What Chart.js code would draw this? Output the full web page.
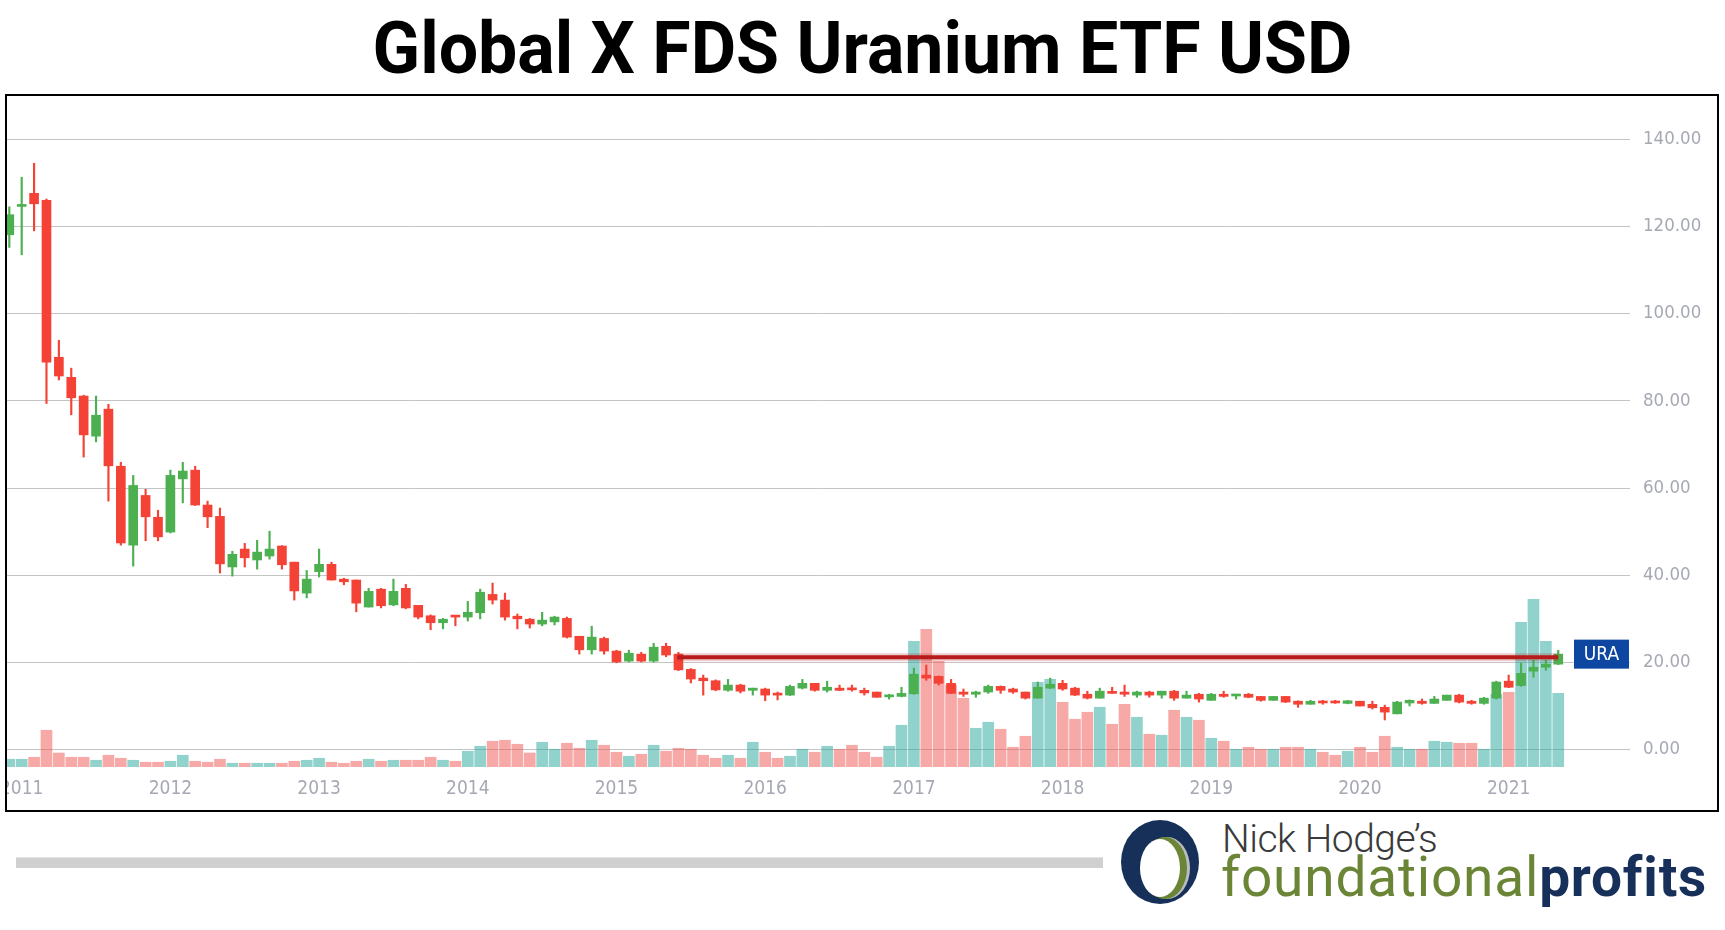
<!DOCTYPE html>
<html>
<head>
<meta charset="utf-8">
<script src="https://cdn.jsdelivr.net/npm/chart.js@4.4.1/dist/chart.umd.min.js"></script>
<style>
  html, body { margin: 0; padding: 0; background: #fff; }
  body { width: 1725px; height: 930px; position: relative; overflow: hidden; font-family: Roboto, sans-serif; }
  #title { position: absolute; left: 0; top: 12px; width: 1725px; text-align: center; font: 700 73px/1 Roboto, sans-serif; color: #000; transform: scaleX(0.957); transform-origin: 862px 0; }
  #box { position: absolute; left: 5px; top: 94px; width: 1714px; height: 718px; border: 2px solid #000; box-sizing: border-box; background: #fff; }
  #box canvas { display: block; }
  #bar { position: absolute; left: 16px; top: 857px; width: 1087px; height: 11px; background: #d0d0d0; border-top: 1px solid #e4e4e4; box-sizing: border-box; }
  #logo { position: absolute; left: 1115px; top: 815px; }
  #nick { position: absolute; left: 1222px; top: 820px; font: 300 39px/1 Roboto, sans-serif; color: #3a3a3a; letter-spacing: -0.5px; }
  #brand { position: absolute; left: 1221px; top: 850px; font: 400 55px/1 Roboto, sans-serif; color: #6b8536; letter-spacing: 0.8px; white-space: nowrap; }
  #brand b { color: #17305a; font-weight: 700; }
</style>
</head>
<body>
<div id="title">Global X FDS Uranium ETF USD</div>
<div id="box"><canvas id="ChartURA" width="1710" height="714"></canvas></div>
<div id="bar"></div>
<svg id="logo" width="100" height="100" viewBox="0 0 100 100">
  <ellipse cx="45" cy="47" rx="39" ry="42" fill="#17305a"/>
  <ellipse cx="52" cy="53" rx="23" ry="31" fill="#b9bcc0"/>
  <ellipse cx="50" cy="53" rx="22" ry="31" fill="#6b8536"/>
  <ellipse cx="45" cy="53" rx="20" ry="29" fill="#fff"/>
</svg>
<div id="nick">Nick Hodge’s</div>
<div id="brand">foundational<b>profits</b></div>

<script>
// Monthly candles, Dec 2010 .. May 2021 (index 0 = Dec 2010)
const TICKER = 'URA';
const OPEN = [
  118.1, 124.6, 127.6, 126.0, 90.0, 85.4, 81.1, 71.9, 78.1, 65.0, 46.9, 58.3, 53.3,
  49.9, 62.1, 64.1, 56.1, 53.5, 41.9, 46.0, 43.5, 44.4, 46.7, 43.0, 35.9,
  40.8, 42.5, 39.1, 38.9, 32.7, 36.8, 33.2, 37.0, 33.1, 30.7, 29.1, 30.6,
  30.4, 31.4, 35.6, 34.3, 30.6, 29.9, 28.8, 29.3, 30.1, 26.0, 22.9, 25.5,
  22.6, 20.3, 21.9, 20.3, 23.7, 21.9, 18.4, 16.4, 15.8, 13.6, 14.8, 13.6,
  13.9, 12.7, 12.5, 14.1, 15.2, 13.6, 14.1, 13.9, 13.6, 13.2, 12.1, 12.2,
  12.8, 17.1, 16.8, 15.2, 13.2, 12.7, 13.2, 14.5, 13.9, 13.2, 11.8, 14.1,
  15.2, 14.1, 12.7, 11.8, 13.2, 13.2, 12.5, 13.2, 12.5, 13.4, 11.8, 12.7,
  11.3, 12.7, 12.3, 12.7, 12.2, 11.3, 12.2, 11.1, 10.4, 10.9, 10.9, 10.6,
  11.1, 10.4, 9.7, 8.2, 10.7, 11.1, 10.6, 11.3, 12.5, 11.1, 10.6, 11.8,
  15.7, 14.7, 18.0, 18.9, 19.6
];
const HIGH = [
  124.5, 131.3, 134.5, 126.3, 93.9, 87.5, 81.3, 81.1, 79.2, 65.9, 62.9, 59.7, 54.9,
  64.1, 65.9, 65.0, 57.0, 55.4, 45.5, 47.3, 48.0, 50.1, 46.8, 43.0, 41.1,
  46.0, 43.0, 39.3, 38.9, 37.0, 37.0, 39.1, 37.9, 33.1, 30.9, 30.1, 30.7,
  34.0, 36.8, 38.2, 35.9, 31.1, 30.1, 31.5, 30.6, 30.4, 26.0, 28.3, 25.8,
  22.8, 22.8, 22.3, 24.4, 24.4, 22.3, 18.6, 17.1, 16.0, 16.1, 15.0, 14.1,
  14.1, 13.2, 14.8, 16.1, 15.2, 15.7, 14.8, 14.8, 14.1, 13.2, 12.7, 14.3,
  18.7, 19.4, 16.9, 16.1, 13.9, 13.4, 14.8, 14.6, 14.1, 13.2, 15.5, 16.4,
  15.9, 14.3, 13.4, 14.1, 14.3, 14.8, 13.4, 13.4, 13.4, 13.6, 13.4, 12.9,
  12.9, 13.4, 12.7, 12.9, 12.2, 12.2, 12.2, 11.2, 11.3, 11.3, 11.3, 11.3,
  11.1, 11.1, 10.2, 11.1, 11.4, 11.6, 12.2, 12.5, 12.7, 11.3, 12.0, 15.7,
  17.1, 19.8, 20.5, 20.5, 22.8
];
const LOW = [
  115.2, 113.5, 119.0, 79.4, 84.8, 76.8, 67.1, 70.6, 57.0, 46.9, 42.1, 47.9, 47.9,
  49.7, 56.6, 56.0, 50.9, 40.5, 39.8, 41.9, 41.4, 43.7, 41.4, 34.3, 34.8,
  39.6, 38.9, 37.8, 31.6, 32.7, 32.5, 33.0, 32.3, 30.0, 27.5, 27.7, 28.4,
  29.5, 30.0, 33.4, 29.7, 27.7, 27.9, 28.4, 28.6, 25.6, 21.9, 21.9, 21.9,
  19.9, 20.1, 20.1, 20.1, 21.3, 18.1, 15.3, 12.5, 13.5, 13.4, 13.0, 12.5,
  11.2, 11.4, 12.4, 13.9, 13.4, 13.2, 13.5, 13.4, 12.5, 12.0, 11.6, 12.1,
  12.7, 15.9, 14.8, 12.9, 12.2, 12.0, 12.9, 12.9, 12.9, 11.6, 11.8, 14.0,
  13.6, 12.4, 11.6, 11.8, 12.9, 12.2, 12.0, 12.0, 11.8, 11.3, 11.8, 10.9,
  11.3, 12.0, 11.6, 11.9, 11.1, 11.3, 10.8, 9.7, 10.4, 10.4, 10.6, 10.5,
  10.0, 9.3, 6.8, 8.2, 10.0, 10.4, 10.6, 11.3, 10.7, 10.4, 10.4, 11.6,
  14.2, 14.5, 16.6, 18.2, 19.5
];
const CLOSE = [
  122.7, 125.0, 125.2, 88.9, 85.7, 80.7, 72.2, 76.7, 65.1, 47.4, 60.6, 53.4, 48.8,
  62.9, 63.9, 56.1, 53.4, 42.6, 44.8, 44.0, 45.3, 46.0, 42.4, 36.4, 39.1,
  42.5, 38.9, 38.5, 33.6, 36.3, 33.0, 36.3, 32.5, 30.4, 29.1, 29.9, 30.4,
  31.5, 36.1, 34.3, 30.4, 30.0, 28.8, 29.7, 30.4, 25.8, 22.9, 25.8, 22.6,
  20.1, 22.1, 20.3, 23.5, 21.7, 18.3, 16.2, 15.8, 13.7, 14.8, 13.4, 14.1,
  12.5, 12.5, 14.5, 15.2, 13.6, 14.3, 13.6, 13.7, 13.0, 12.0, 12.5, 12.9,
  17.3, 16.4, 15.2, 12.9, 12.7, 13.2, 14.5, 13.6, 13.2, 11.8, 14.3, 15.0,
  13.9, 12.5, 11.8, 13.4, 12.9, 12.7, 13.2, 12.5, 13.4, 11.8, 12.5, 11.6,
  12.7, 12.2, 12.5, 12.0, 11.3, 12.2, 10.9, 10.4, 11.1, 10.7, 10.7, 11.2,
  10.0, 9.6, 8.6, 10.9, 11.3, 10.6, 11.6, 12.5, 10.9, 10.6, 11.8, 15.5,
  14.3, 17.5, 18.9, 19.6, 21.9
];
// volume, millions of shares
const VOLUME = [
  3.1, 3.1, 3.9, 14.7, 5.6, 3.9, 3.9, 2.7, 4.7, 3.5, 2.7, 1.9, 1.9,
  2.3, 4.7, 2.3, 1.9, 3.1, 1.5, 1.5, 1.5, 1.5, 1.5, 2.3, 2.7,
  3.5, 1.9, 1.5, 2.3, 3.1, 2.3, 2.7, 2.7, 2.7, 3.9, 2.7, 2.3,
  6.3, 8.3, 10.3, 10.7, 9.1, 5.6, 9.9, 7.1, 9.5, 7.5, 10.7, 8.7,
  5.9, 4.3, 5.1, 8.7, 6.3, 7.5, 7.1, 4.7, 3.5, 4.7, 3.5, 9.9,
  5.9, 3.5, 4.3, 7.1, 5.9, 8.3, 7.1, 8.7, 5.9, 3.9, 8.3, 16.7,
  50.3, 55.1, 42.3, 32.7, 27.5, 15.5, 17.9, 15.1, 7.9, 12.3, 33.9, 35.1,
  25.9, 19.1, 21.9, 23.9, 17.1, 25.1, 19.9, 13.1, 12.7, 22.7, 19.9, 18.7,
  11.5, 10.3, 7.1, 7.9, 7.1, 7.1, 7.9, 7.9, 7.1, 5.9, 4.7, 6.3,
  7.9, 5.9, 12.3, 7.9, 7.1, 7.1, 10.3, 9.9, 9.5, 9.5, 7.1, 29.1,
  29.9, 57.9, 67.1, 50.3, 29.5
];
const YEAR_LABELS = ['2011', '2012', '2013', '2014', '2015', '2016', '2017', '2018', '2019', '2020', '2021'];
const YEAR_TICK_INDEX = [1, 13, 25, 37, 49, 61, 73, 85, 97, 109, 121];
const PRICE_TICKS = [0, 20, 40, 60, 80, 100, 120, 140];
// horizontal level drawn from Jun 2015 to the last bar
const LEVEL = 21.2;
const LEVEL_FROM = 53.9;
const LEVEL_TO = 125;

const UP = '#4caf50';
const DOWN = '#f44336';
const UP_VOL = 'rgba(38, 166, 154, 0.5)';
const DOWN_VOL = 'rgba(239, 83, 80, 0.5)';
const AXIS_TEXT = '#a6a9b3';
const AXIS_FONT = '"DejaVu Sans Condensed", "DejaVu Sans", sans-serif';

const idx = OPEN.map((_, i) => i);
const isUp = i => CLOSE[i] >= OPEN[i];

const lastPriceTag = {
    id: 'lastPriceTag',
    afterDatasetsDraw(chart) {
        const { ctx, chartArea } = chart;
        const y = chart.scales.y.getPixelForValue(CLOSE[CLOSE.length - 1]);
        ctx.save();
        ctx.fillStyle = '#0d47a1';
        ctx.fillRect(chartArea.right - 56, y - 14.5, 55, 29);
        ctx.fillStyle = '#fff';
        ctx.font = '19px ' + AXIS_FONT;
        ctx.textAlign = 'center';
        ctx.textBaseline = 'middle';
        ctx.fillText(TICKER, chartArea.right - 28.5, y + 1);
        ctx.restore();
    }
};

const ctx = document.getElementById('ChartURA').getContext('2d');
const chartURA = new Chart(ctx, {
    type: 'bar',
    data: {
        datasets: [
            {
                type: 'line',
                label: 'Level',
                data: [{ x: LEVEL_FROM, y: LEVEL }, { x: LEVEL_TO, y: LEVEL }],
                borderColor: '#b71c1c',
                borderWidth: 4,
                pointRadius: 0,
                yAxisID: 'y',
                order: 0
            },
            {
                type: 'line',
                label: 'Level halo',
                data: [{ x: LEVEL_FROM, y: LEVEL }, { x: LEVEL_TO, y: LEVEL }],
                borderColor: 'rgba(183, 28, 28, 0.22)',
                borderWidth: 8,
                pointRadius: 0,
                yAxisID: 'y',
                order: 1
            },
            {
                label: 'Body',
                data: idx.map(i => ({ x: i, y: [OPEN[i], CLOSE[i]] })),
                backgroundColor: idx.map(i => isUp(i) ? UP : DOWN),
                barThickness: 9,
                minBarLength: 2,
                grouped: false,
                yAxisID: 'y',
                order: 2
            },
            {
                label: 'Wick',
                data: idx.map(i => ({ x: i, y: [LOW[i], HIGH[i]] })),
                backgroundColor: idx.map(i => isUp(i) ? UP : DOWN),
                barThickness: 1.5,
                grouped: false,
                yAxisID: 'y',
                order: 3
            },
            {
                label: 'Volume',
                data: idx.map(i => ({ x: i, y: VOLUME[i] })),
                backgroundColor: idx.map(i => isUp(i) ? UP_VOL : DOWN_VOL),
                barThickness: 11,
                grouped: false,
                yAxisID: 'vol',
                order: 4
            }
        ]
    },
    options: {
        responsive: false,
        animation: false,
        events: [],
        layout: { padding: { top: 1, left: 0, right: 0, bottom: 0 } },
        plugins: {
            legend: { display: false },
            tooltip: { enabled: false }
        },
        scales: {
            x: {
                type: 'linear',
                min: -0.186,
                max: 130.79,
                offset: false,
                grid: { display: false },
                border: { display: false },
                afterBuildTicks: (scale) => {
                    scale.ticks = YEAR_TICK_INDEX.map(v => ({ value: v }));
                },
                afterFit: (scale) => {
                    scale.height = 43;
                    scale.paddingLeft = 0;
                    scale.paddingRight = 0;
                },
                ticks: {
                    autoSkip: false,
                    maxRotation: 0,
                    padding: 3,
                    color: AXIS_TEXT,
                    font: { family: AXIS_FONT, size: 19 },
                    callback: (value, index) => YEAR_LABELS[index]
                }
            },
            y: {
                position: 'right',
                min: -3.99,
                max: 149.7,
                grid: { color: '#c4c4c4', drawTicks: false },
                border: { display: false },
                afterBuildTicks: (scale) => {
                    scale.ticks = PRICE_TICKS.map(v => ({ value: v }));
                },
                afterFit: (scale) => {
                    scale.width = 87;
                    scale.paddingTop = 0;
                    scale.paddingBottom = 0;
                },
                ticks: {
                    padding: 13,
                    color: AXIS_TEXT,
                    font: { family: AXIS_FONT, size: 18.5 },
                    callback: (value) => value.toFixed(2)
                }
            },
            vol: {
                display: false,
                min: 0,
                max: 268
            }
        }
    },
    plugins: [lastPriceTag]
});
</script>
</body>
</html>
